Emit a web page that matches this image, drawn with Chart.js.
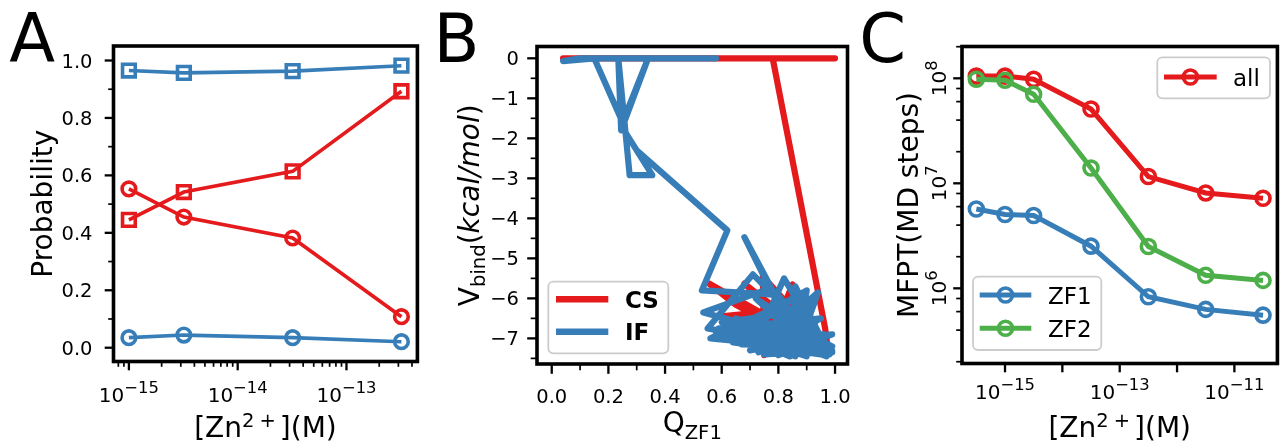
<!DOCTYPE html>
<html lang="en">
<head>
<meta charset="UTF-8">
<title>Zn2+ binding: pathway probability, binding energy and MFPT</title>
<script src="https://cdn.jsdelivr.net/npm/chart.js"></script>
<style>
  html, body { margin: 0; padding: 0; background: #fff; }
  #fig { position: relative; width: 1288px; height: 446px; overflow: hidden; }
  .panel { position: absolute; top: 0; height: 446px; }
  .panel canvas { display: block; }
</style>
</head>
<body>
<div id="fig">
  <div class="panel" style="left:0;width:430px"><canvas id="chartA" width="430" height="446"></canvas></div>
  <div class="panel" style="left:430px;width:428px"><canvas id="chartB" width="428" height="446"></canvas></div>
  <div class="panel" style="left:858px;width:430px"><canvas id="chartC" width="430" height="446"></canvas></div>
</div>
<script>
// ---- panel A: probability vs zinc concentration ----
const concA = [1e-15, 3.2e-15, 3.2e-14, 3.2e-13];
const probBlueSq = [0.965, 0.957, 0.963, 0.982];
const probRedSq = [0.445, 0.542, 0.614, 0.893];
const probRedCirc = [0.553, 0.455, 0.382, 0.108];
const probBlueCirc = [0.035, 0.044, 0.035, 0.021];
const probTicks = [0, 0.2, 0.4, 0.6, 0.8, 1.0];
const concATickExp = [-15, -14, -13];

// ---- panel B: binding energy along Q_ZF1 ----
const csQ = [0.04, 1.0, 0.78, 0.965, 0.975, 0.555, 0.65, 0.92, 0.68, 0.98, 0.745, 0.75, 0.85, 0.95, 0.60, 0.81, 0.90, 0.86, 0.97];
const csV = [0, 0, 0, -6.75, -7.3, -5.63, -6.16, -7.2, -5.63, -7.3, -5.45, -7.42, -5.65, -7.35, -6.45, -6.3, -6.2, -7.35, -7.0];
const ifQ = [0.58, 0.10, 0.04, 0.15, 0.25, 0.34, 0.245, 0.235, 0.275, 0.355, 0.26, 0.30, 0.62, 0.53,
  0.735, 0.80, 0.93, 0.535, 0.77, 0.96, 0.55, 0.71, 0.98, 0.83, 0.68, 0.87, 0.90, 0.62, 0.86, 0.94,
  0.71, 0.82, 0.97, 0.58, 0.92, 0.75, 0.99, 0.56, 0.89, 0.95, 0.64, 0.99, 0.80, 0.91, 0.60, 0.97,
  0.66, 0.84, 0.86, 0.98, 0.63, 0.93, 0.70, 0.96, 0.59, 0.90, 0.78, 0.99, 0.67, 0.88, 0.73, 0.95,
  0.68, 0.97, 0.76, 0.94, 0.61, 0.89, 0.72, 0.92, 0.65, 0.99];
const ifV = [0, 0, -0.07, 0, -1.6, 0, -1.8, 0, -2.92, -2.92, -1.85, -2.3, -4.3, -5.8,
  -5.88, -5.92, -7.1, -6.35, -5.75, -7.3, -6.75, -5.4, -7.35, -6.6, -4.47, -7.0, -5.8, -6.9, -7.45, -5.85,
  -7.25, -5.5, -7.3, -6.85, -6.1, -7.4, -7.3, -7.0, -5.9, -7.4, -7.1, -6.9, -7.42, -6.3, -6.6, -7.15,
  -6.9, -7.45, -5.7, -7.4, -7.0, -6.6, -7.3, -6.9, -6.75, -7.45, -6.4, -7.2, -7.15, -6.2, -7.35, -6.5,
  -6.7, -7.45, -6.2, -7.2, -6.95, -6.8, -6.0, -7.3, -6.5, -7.35];
const qTicks = [0, 0.2, 0.4, 0.6, 0.8, 1.0];
const vTicks = [-7, -6, -5, -4, -3, -2, -1, 0];

// ---- panel C: mean first passage time ----
const concC = [3.16e-16, 1e-15, 3.16e-15, 3.16e-14, 3.16e-13, 3.16e-12, 3.16e-11];
const mfptAll = [1.05e8, 1.05e8, 9.8e7, 5.1e7, 1.16e7, 8.1e6, 7.2e6];
const mfptZF1 = [5.7e6, 5.05e6, 4.93e6, 2.52e6, 8.3e5, 6.3e5, 5.55e5];
const mfptZF2 = [9.8e7, 9.6e7, 7.05e7, 1.4e7, 2.5e6, 1.33e6, 1.19e6];
const concCTickExp = [-15, -14, -13, -12, -11];
const concCLabelExp = [-15, -13, -11];
const mfptTickExp = [6, 7, 8];

const RED = '#e41a1c', BLUE = '#377eb8', GREEN = '#4daf4a';
const FONT = '"DejaVu Sans", "Liberation Sans", sans-serif';
const TICK = 19.5, TITLE = 28, LEG = 23;
const H = 446;

function fnt(size, style) { return (style ? style + ' ' : '') + size + 'px ' + FONT; }
function plain(t, size = TICK) { return [{ t, size }]; }
function neg(s) { return s.replace('-', '\u2212'); }
function pow10(e, size = 20) {
  return [{ t: '10', size }, { t: neg(String(e)), size: size * 0.82, dy: -size * 0.44 }];
}
function xy(xs, ys) { return xs.map((x, i) => ({ x, y: ys[i] })); }

// rich text = list of runs {t, size, dy, style, gap}
function runsWidth(ctx, runs) {
  let w = 0;
  for (const r of runs) { ctx.font = fnt(r.size, r.style); w += ctx.measureText(r.t).width + (r.gap || 0); }
  return w;
}
function drawRuns(ctx, runs, x, y, align, angle) {
  ctx.save();
  ctx.translate(x, y);
  if (angle) ctx.rotate(angle);
  const w = runsWidth(ctx, runs);
  let cx = align === 'center' ? -w / 2 : align === 'right' ? -w : 0;
  ctx.textAlign = 'left';
  ctx.textBaseline = 'alphabetic';
  ctx.fillStyle = '#000';
  for (const r of runs) {
    ctx.font = fnt(r.size, r.style);
    ctx.fillText(r.t, cx, r.dy || 0);
    cx += ctx.measureText(r.t).width + (r.gap || 0);
  }
  ctx.restore();
}

function logMinor(e0, e1, subs) {
  const out = [];
  for (let e = e0; e <= e1; e++) for (const m of subs) out.push({ v: m * Math.pow(10, e), major: false });
  return out;
}
function halfSteps(vals, step) {
  return vals.map(v => ({ v: v + step, major: false }));
}

function roundRect(ctx, x, y, w, h, r) {
  ctx.beginPath();
  ctx.moveTo(x + r, y);
  ctx.arcTo(x + w, y, x + w, y + h, r);
  ctx.arcTo(x + w, y + h, x, y + h, r);
  ctx.arcTo(x, y + h, x, y, r);
  ctx.arcTo(x, y, x + w, y, r);
  ctx.closePath();
}

function drawLegend(chart, lg, ox) {
  const ctx = chart.ctx;
  ctx.save();
  roundRect(ctx, lg.box[0] - ox, lg.box[1], lg.box[2] - lg.box[0], lg.box[3] - lg.box[1], 5);
  ctx.fillStyle = 'rgba(255,255,255,0.8)';
  ctx.fill();
  ctx.strokeStyle = '#cccccc';
  ctx.lineWidth = 1.8;
  ctx.stroke();
  for (const row of lg.rows) {
    const ds = chart.data.datasets[row.ds];
    ctx.strokeStyle = ds.borderColor;
    ctx.lineWidth = row.lw;
    ctx.lineCap = 'butt';
    ctx.beginPath();
    ctx.moveTo(lg.x0 - ox, row.y);
    ctx.lineTo(lg.x1 - ox, row.y);
    ctx.stroke();
    if (row.marker) {
      ctx.lineWidth = ds.pointBorderWidth;
      ctx.beginPath();
      ctx.arc((lg.x0 + lg.x1) / 2 - ox, row.y, ds.pointRadius, 0, Math.PI * 2);
      ctx.stroke();
    }
    drawRuns(ctx, [{ t: ds.label, size: LEG, style: lg.bold ? 'bold' : '' }], lg.tx - ox, row.y + 8.5, 'left');
  }
  ctx.restore();
}

// frame, ticks, labels, titles, panel letter and legends
function axesPlugin(s) {
  return {
    id: 'axes' + s.letter,
    afterDraw(chart) {
      const ctx = chart.ctx, a = chart.chartArea, ox = s.ox;
      const xs = chart.scales.x, ys = chart.scales.y;
      ctx.save();
      ctx.strokeStyle = '#000';
      ctx.lineCap = 'butt';
      for (const t of s.xTicks) {
        if (t.v < xs.min || t.v > xs.max) continue;
        const px = xs.getPixelForValue(t.v);
        ctx.lineWidth = t.major ? 2.3 : 1.7;
        ctx.beginPath();
        ctx.moveTo(px, a.bottom);
        ctx.lineTo(px, a.bottom + 1.8 + (t.major ? s.majorLen : s.minorLen));
        ctx.stroke();
        if (t.label) drawRuns(ctx, t.label, px, s.xLabelBase, 'center');
      }
      for (const t of s.yTicks) {
        if (t.v < ys.min || t.v > ys.max) continue;
        const py = ys.getPixelForValue(t.v);
        ctx.lineWidth = t.major ? 2.3 : 1.7;
        ctx.beginPath();
        ctx.moveTo(a.left, py);
        ctx.lineTo(a.left - 1.8 - (t.major ? s.majorLen : s.minorLen), py);
        ctx.stroke();
        if (t.label) {
          if (s.yLabelRotated) drawRuns(ctx, t.label, s.yLabelX - ox, py, 'center', -Math.PI / 2);
          else drawRuns(ctx, t.label, s.yLabelX - ox, py + 7, 'right');
        }
      }
      ctx.lineWidth = 3.6;
      ctx.strokeRect(a.left, a.top, a.right - a.left, a.bottom - a.top);
      drawRuns(ctx, s.xTitle, (a.left + a.right) / 2, s.xTitleBase, 'center');
      drawRuns(ctx, s.yTitle, s.yTitleX - ox, (a.top + a.bottom) / 2, 'center', -Math.PI / 2);
      drawRuns(ctx, [{ t: s.letter, size: 67 }], s.letterX - ox, 62, 'left');
      for (const lg of s.legends || []) drawLegend(chart, lg, ox);
      ctx.restore();
    }
  };
}

function options(frame, ox, w, xScale, yScale) {
  return {
    responsive: false, animation: false, devicePixelRatio: 1, events: [],
    layout: { padding: { left: frame.l - ox, top: frame.t, right: w - (frame.r - ox), bottom: H - frame.b } },
    plugins: { legend: { display: false }, tooltip: { enabled: false } },
    scales: {
      x: Object.assign({ display: false, bounds: 'data' }, xScale),
      y: Object.assign({ display: false, bounds: 'data' }, yScale)
    }
  };
}

const zincTitle = [
  { t: '[Zn', size: TITLE },
  { t: '2', size: 19.5, dy: -10, gap: 5 },
  { t: '+', size: 19.5, dy: -10, gap: 4 },
  { t: '](M)', size: TITLE }
];

// ---------- A ----------
function seriesA(label, data, color, style, radius, order) {
  return {
    label, data: xy(concA, data), borderColor: color, borderWidth: 3.6,
    pointStyle: style, pointRadius: radius, pointBorderWidth: 3.6, pointBorderColor: color,
    pointBackgroundColor: 'rgba(0,0,0,0)', tension: 0, order
  };
}
new Chart(document.getElementById('chartA'), {
  type: 'line',
  data: {
    datasets: [
      seriesA('blue squares', probBlueSq, BLUE, 'rect', 9, 0),
      seriesA('red squares', probRedSq, RED, 'rect', 9, 1),
      seriesA('red circles', probRedCirc, RED, 'circle', 6.8, 2),
      seriesA('blue circles', probBlueCirc, BLUE, 'circle', 6.8, 3)
    ]
  },
  options: options({ l: 113.5, r: 425.5, t: 46, b: 361.5 }, 0, 430,
    { type: 'logarithmic', min: Math.pow(10, -15.1415), max: Math.pow(10, -12.348) },
    { type: 'linear', min: -0.048, max: 1.0505 }),
  plugins: [axesPlugin({
    letter: 'A', letterX: 9.3, ox: 0, majorLen: 7, minorLen: 3.5,
    xTicks: concATickExp.map(e => ({ v: Math.pow(10, e), major: true, label: pow10(e) }))
      .concat(logMinor(-16, -13, [2, 3, 4, 5, 6, 7, 8, 9])),
    yTicks: probTicks.map(v => ({ v, major: true, label: plain(v.toFixed(1)) }))
      .concat(halfSteps(probTicks, 0.1)),
    xLabelBase: 401.5, yLabelX: 92.5,
    xTitle: zincTitle, xTitleBase: 436.5,
    yTitle: [{ t: 'Probability', size: TITLE }], yTitleX: 52
  })]
});

// ---------- B ----------
new Chart(document.getElementById('chartB'), {
  type: 'line',
  data: {
    datasets: [
      { label: 'CS', data: xy(csQ, csV), borderColor: RED, borderWidth: 6.2, pointRadius: 0,
        borderJoinStyle: 'round', borderCapStyle: 'round', tension: 0, order: 1 },
      { label: 'IF', data: xy(ifQ, ifV), borderColor: BLUE, borderWidth: 6.2, pointRadius: 0,
        borderJoinStyle: 'round', borderCapStyle: 'round', tension: 0, order: 0 }
    ]
  },
  options: options({ l: 537, r: 847.5, t: 46.5, b: 364 }, 430, 428,
    { type: 'linear', min: -0.052, max: 1.044 },
    { type: 'linear', min: -7.64, max: 0.295 }),
  plugins: [axesPlugin({
    letter: 'B', letterX: 433.5, ox: 430, majorLen: 8, minorLen: 4.5,
    xTicks: qTicks.map(v => ({ v, major: true, label: plain(v.toFixed(1)) }))
      .concat(halfSteps(qTicks, 0.1)),
    yTicks: vTicks.map(v => ({ v, major: true, label: plain(neg(String(v))) }))
      .concat(halfSteps(vTicks, -0.5)),
    xLabelBase: 403, yLabelX: 519,
    xTitle: [{ t: 'Q', size: TITLE }, { t: 'ZF1', size: 19.6, dy: 7 }], xTitleBase: 432,
    yTitle: [{ t: 'V', size: TITLE }, { t: 'bind', size: 19.6, dy: 6 }, { t: '(', size: TITLE },
      { t: 'kcal/mol', size: TITLE, style: 'italic' }, { t: ')', size: TITLE }], yTitleX: 479,
    legends: [{ box: [548.3, 281.7, 668.3, 353.3], x0: 556, x1: 608.3, tx: 625, bold: true,
      rows: [{ ds: 0, y: 299.3, lw: 6.5 }, { ds: 1, y: 331.7, lw: 6.5 }] }]
  })]
});

// ---------- C ----------
function seriesC(label, data, color, order) {
  return {
    label, data: xy(concC, data), borderColor: color, borderWidth: 5,
    pointStyle: 'circle', pointRadius: 7, pointBorderWidth: 3.6, pointBorderColor: color,
    pointBackgroundColor: 'rgba(0,0,0,0)', tension: 0, order
  };
}
new Chart(document.getElementById('chartC'), {
  type: 'line',
  data: {
    datasets: [
      seriesC('all', mfptAll, RED, 2),
      seriesC('ZF1', mfptZF1, BLUE, 1),
      seriesC('ZF2', mfptZF2, GREEN, 0)
    ]
  },
  options: options({ l: 962, r: 1281.5, t: 46.5, b: 363.5 }, 858, 430,
    { type: 'logarithmic', min: Math.pow(10, -15.75), max: Math.pow(10, -10.25) },
    { type: 'logarithmic', min: Math.pow(10, 5.284), max: Math.pow(10, 8.303) }),
  plugins: [axesPlugin({
    letter: 'C', letterX: 859.3, ox: 858, majorLen: 7, minorLen: 4,
    xTicks: concCTickExp.map(e => ({ v: Math.pow(10, e), major: true,
      label: concCLabelExp.includes(e) ? pow10(e) : null })),
    yTicks: mfptTickExp.map(e => ({ v: Math.pow(10, e), major: true, label: pow10(e) }))
      .concat(logMinor(5, 8, [2, 4, 6, 8])),
    xLabelBase: 398.5, yLabelX: 946, yLabelRotated: true,
    xTitle: zincTitle, xTitleBase: 436.5,
    yTitle: [{ t: 'MFPT(MD steps)', size: TITLE }], yTitleX: 918,
    legends: [
      { box: [1157.3, 57.3, 1270, 98.3], x0: 1164, x1: 1216.7, tx: 1233, rows: [{ ds: 0, y: 77, lw: 5, marker: true }] },
      { box: [973, 276.7, 1101.3, 350], x0: 979.7, x1: 1031.3, tx: 1048,
        rows: [{ ds: 1, y: 295, lw: 5, marker: true }, { ds: 2, y: 328.3, lw: 5, marker: true }] }
    ]
  })]
});
</script>
</body>
</html>
